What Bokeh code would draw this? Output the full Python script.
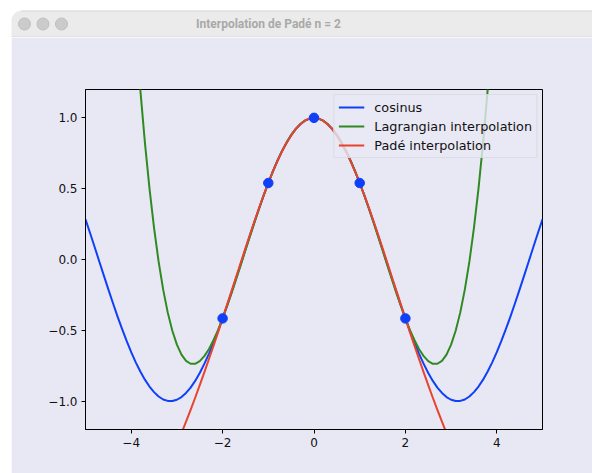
from bokeh.plotting import figure
from bokeh.models import FixedTicker, CustomJSTickFormatter, Range1d, Spacer
from bokeh.layouts import column, row
from bokeh.core.properties import value
from bokeh.embed import file_html
from bokeh.resources import INLINE

# ---- data ----
x_values = [-5.0, -4.9, -4.8, -4.7, -4.6, -4.5, -4.4, -4.3, -4.2, -4.1,
            -4.0, -3.9, -3.8, -3.7, -3.6, -3.5, -3.4, -3.3, -3.2, -3.1,
            -3.0, -2.9, -2.8, -2.7, -2.6, -2.5, -2.4, -2.3, -2.2, -2.1,
            -2.0, -1.9, -1.8, -1.7, -1.6, -1.5, -1.4, -1.3, -1.2, -1.1,
            -1.0, -0.9, -0.8, -0.7, -0.6, -0.5, -0.4, -0.3, -0.2, -0.1,
            0.0, 0.1, 0.2, 0.3, 0.4, 0.5, 0.6, 0.7, 0.8, 0.9,
            1.0, 1.1, 1.2, 1.3, 1.4, 1.5, 1.6, 1.7, 1.8, 1.9,
            2.0, 2.1, 2.2, 2.3, 2.4, 2.5, 2.6, 2.7, 2.8, 2.9,
            3.0, 3.1, 3.2, 3.3, 3.4, 3.5, 3.6, 3.7, 3.8, 3.9,
            4.0, 4.1, 4.2, 4.3, 4.4, 4.5, 4.6, 4.7, 4.8, 4.9, 5.0]

cosinus = [0.284, 0.187, 0.088, -0.012, -0.112, -0.211, -0.307, -0.401, -0.490, -0.575,
           -0.654, -0.726, -0.791, -0.848, -0.897, -0.936, -0.967, -0.988, -0.998, -0.999,
           -0.990, -0.971, -0.942, -0.904, -0.857, -0.801, -0.737, -0.666, -0.589, -0.505,
           -0.416, -0.323, -0.227, -0.129, -0.029, 0.071, 0.170, 0.268, 0.362, 0.454,
           0.540, 0.622, 0.697, 0.765, 0.825, 0.878, 0.921, 0.955, 0.980, 0.995,
           1.000, 0.995, 0.980, 0.955, 0.921, 0.878, 0.825, 0.765, 0.697, 0.622,
           0.540, 0.454, 0.362, 0.268, 0.170, 0.071, -0.029, -0.129, -0.227, -0.323,
           -0.416, -0.505, -0.589, -0.666, -0.737, -0.801, -0.857, -0.904, -0.942, -0.971,
           -0.990, -0.999, -0.998, -0.988, -0.967, -0.936, -0.897, -0.848, -0.791, -0.726,
           -0.654, -0.575, -0.490, -0.401, -0.307, -0.211, -0.112, -0.012, 0.088, 0.187, 0.284]

lagrange = [10.640, 9.421, 8.294, 7.254, 6.297, 5.420, 4.619, 3.890, 3.229, 2.633,
            2.098, 1.620, 1.197, 0.825, 0.502, 0.223, -0.015, -0.213, -0.375, -0.503,
            -0.601, -0.671, -0.715, -0.736, -0.736, -0.717, -0.682, -0.633, -0.570, -0.498,
            -0.416, -0.328, -0.234, -0.136, -0.036, 0.065, 0.165, 0.264, 0.360, 0.453,
            0.540, 0.622, 0.698, 0.766, 0.826, 0.878, 0.922, 0.956, 0.980, 0.995,
            1.000, 0.995, 0.980, 0.956, 0.922, 0.878, 0.826, 0.766, 0.698, 0.622,
            0.540, 0.453, 0.360, 0.264, 0.165, 0.065, -0.036, -0.136, -0.234, -0.328,
            -0.416, -0.498, -0.570, -0.633, -0.682, -0.717, -0.736, -0.736, -0.715, -0.671,
            -0.601, -0.503, -0.375, -0.213, -0.015, 0.223, 0.502, 0.825, 1.197, 1.620,
            2.098, 2.633, 3.229, 3.890, 4.619, 5.420, 6.297, 7.254, 8.294, 9.421, 10.640]

pade = [-2.393, -2.356, -2.318, -2.278, -2.236, -2.193, -2.149, -2.102, -2.054, -2.004,
        -1.951, -1.897, -1.840, -1.782, -1.721, -1.657, -1.592, -1.523, -1.453, -1.380,
        -1.304, -1.226, -1.145, -1.061, -0.976, -0.887, -0.797, -0.704, -0.610, -0.514,
        -0.416, -0.317, -0.218, -0.118, -0.019, 0.080, 0.178, 0.273, 0.366, 0.455,
        0.540, 0.620, 0.695, 0.763, 0.823, 0.876, 0.920, 0.955, 0.980, 0.995,
        1.000, 0.995, 0.980, 0.955, 0.920, 0.876, 0.823, 0.763, 0.695, 0.620,
        0.540, 0.455, 0.366, 0.273, 0.178, 0.080, -0.019, -0.118, -0.218, -0.317,
        -0.416, -0.514, -0.610, -0.704, -0.797, -0.887, -0.976, -1.061, -1.145, -1.226,
        -1.304, -1.380, -1.453, -1.523, -1.592, -1.657, -1.721, -1.782, -1.840, -1.897,
        -1.951, -2.004, -2.054, -2.102, -2.149, -2.193, -2.236, -2.278, -2.318, -2.356, -2.393]

x_nodes = [-2, -1, 0, 1, 2]
y_nodes = [-0.416, 0.540, 1.000, 0.540, -0.416]

x_ticks = [-4, -2, 0, 2, 4]
y_ticks = [-1.0, -0.5, 0.0, 0.5, 1.0]

window_title = "Interpolation de Padé n = 2"
series_labels = ["cosinus", "Lagrangian interpolation", "Padé interpolation"]

# ---- styles ----
BG = "#e8e8f5"
BLUE = "#0f40f8"
GREEN = "#2f8a22"
RED = "#e8432e"
FONT = "DejaVu Sans"
TOTAL_W = 592
LEFT_GAP = 11
BAR_H = 37
WIN_TOP = 10

# ---- window title bar (decoration drawn in pixel units) ----
bar = figure(width=TOTAL_W, height=BAR_H, x_range=Range1d(0, TOTAL_W), y_range=Range1d(BAR_H, 0),
             x_axis_type=None, y_axis_type=None, min_border=0,
             output_backend="svg", toolbar_location=None)
bar.outline_line_color = None
bar.background_fill_color = "white"
bar.border_fill_color = "white"
bar.grid.visible = False
bar.quad(left=[LEFT_GAP + 10], right=[TOTAL_W], top=[WIN_TOP], bottom=[BAR_H],
         fill_color="#ebebeb", line_color=None)
bar.quad(left=[LEFT_GAP], right=[LEFT_GAP + 11], top=[WIN_TOP + 10], bottom=[BAR_H],
         fill_color="#ebebeb", line_color=None)
bar.scatter(x=[LEFT_GAP + 10], y=[WIN_TOP + 10], size=20, fill_color="#ebebeb", line_color=None)
bar.segment(x0=[LEFT_GAP + 10], y0=[WIN_TOP + 0.5], x1=[TOTAL_W], y1=[WIN_TOP + 0.5],
            line_color="#d8d8d8", line_width=1)
bar.segment(x0=[LEFT_GAP], y0=[BAR_H - 0.5], x1=[TOTAL_W], y1=[BAR_H - 0.5],
            line_color="#d6d6d6", line_width=1)
bar.scatter(x=[24, 42.5, 61], y=[23.5, 23.5, 23.5], size=12, fill_color="#cbcbcb", line_color="#bfbfbf")
bar.text(x=[268], y=[23.5], text=[window_title], text_align="center", text_baseline="middle",
         text_font=value("Roboto"), text_font_style="bold", text_font_size="12px", text_color="#a9a9a9")

# ---- main plot ----
p = figure(frame_width=457, frame_height=340,
           min_border_left=74, min_border_right=TOTAL_W - LEFT_GAP - 74 - 457,
           min_border_top=52, min_border_bottom=44,
           x_range=Range1d(-5, 5), y_range=Range1d(-1.2, 1.2),
           output_backend="svg", toolbar_location=None)

p.background_fill_color = BG
p.border_fill_color = BG
p.outline_line_color = "black"
p.outline_line_width = 1
p.xgrid.visible = False
p.ygrid.visible = False

p.line(x_values, cosinus, line_color=BLUE, line_width=2, line_join="round", legend_label=series_labels[0])
p.line(x_values, lagrange, line_color=GREEN, line_width=2, line_join="round", legend_label=series_labels[1])
p.line(x_values, pade, line_color=RED, line_width=2, line_join="round", legend_label=series_labels[2])
p.scatter(x_nodes, y_nodes, size=9.5, fill_color=BLUE, line_color=BLUE)

p.xaxis.ticker = FixedTicker(ticks=x_ticks)
p.yaxis.ticker = FixedTicker(ticks=y_ticks)
p.xaxis.formatter = CustomJSTickFormatter(code="return tick.toFixed(0).replace('-', '\u2212');")
p.yaxis.formatter = CustomJSTickFormatter(code="return tick.toFixed(1).replace('-', '\u2212');")
for ax in (p.xaxis, p.yaxis):
    ax.axis_line_color = "black"
    ax.major_tick_line_color = "black"
    ax.major_tick_out = 4
    ax.major_tick_in = 0
    ax.minor_tick_line_color = None
    ax.major_label_text_font = FONT
    ax.major_label_text_font_size = "12px"
    ax.major_label_text_color = "#111111"
    ax.major_label_standoff = 4

lg = p.legend[0]
lg.location = "top_right"
lg.margin = 5
lg.padding = 4
lg.spacing = 3
lg.glyph_width = 26
lg.glyph_height = 16
lg.label_height = 16
lg.label_standoff = 10
lg.label_text_font = FONT
lg.label_text_font_size = "12.8px"
lg.label_text_color = "#111111"
lg.border_line_color = "#cfcfd8"
lg.background_fill_color = BG
lg.background_fill_alpha = 0.8

layout = column(bar, row(Spacer(width=LEFT_GAP, height=436), p, spacing=0), spacing=0)

open("out.html", "w").write(file_html(layout, INLINE, title=window_title))
